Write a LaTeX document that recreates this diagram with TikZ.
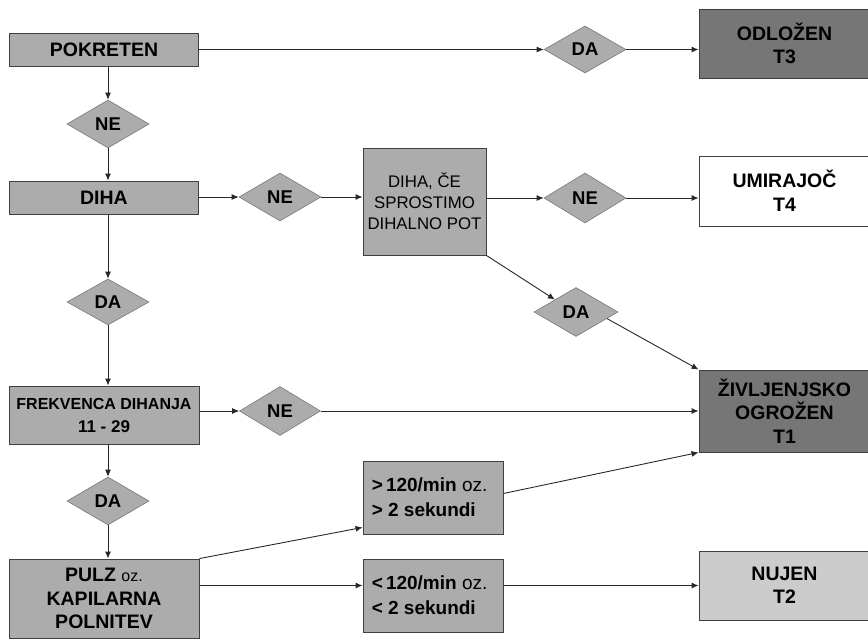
\documentclass[tikz,border=0pt]{standalone}
\usepackage{fontspec}
\setmainfont{Liberation Sans}
\usetikzlibrary{shapes.geometric,arrows.meta}

\definecolor{boxgray}{RGB}{172,172,172}
\definecolor{darkgray}{RGB}{118,118,118}
\definecolor{lightgray}{RGB}{204,204,204}
\definecolor{edgegray}{RGB}{64,64,64}
\definecolor{linegray}{RGB}{40,40,40}

\tikzset{
  box/.style={draw=edgegray, line width=0.9pt, fill=boxgray, inner sep=0pt,
    align=center, font=\bfseries\fontsize{19.5}{23.5}\selectfont},
  darkbox/.style={box, fill=darkgray},
  lightbox/.style={box, fill=lightgray},
  whitebox/.style={box, fill=white},
  answer/.style={diamond, draw=boxgray!70!black, line width=0.6pt, fill=boxgray,
    inner sep=0pt, font=\bfseries\fontsize{18.5}{22}\selectfont},
  rangebox/.style={box, minimum width=140pt, minimum height=73pt},
  rangetext/.style={anchor=west, align=left, inner sep=0pt,
    font=\bfseries\fontsize{19}{25}\selectfont},
  flow/.style={draw=linegray, line width=0.9pt, -{Latex[length=7pt,width=6pt]}},
}

\begin{document}
\begin{tikzpicture}[x=1pt,y=-1pt]
\useasboundingbox (0,0) rectangle (868,640);

% left column
\node[box, minimum width=189pt, minimum height=33pt] (pok) at (104,49.5) {POKRETEN};
\node[answer, minimum width=82pt, minimum height=48pt] (ne1) at (108,124) {NE};
\node[box, minimum width=189pt, minimum height=33pt] (diha) at (104,197.5) {DIHA};
\node[answer, minimum width=82pt, minimum height=46pt] (da2) at (108,302) {DA};
\node[box, minimum width=190pt, minimum height=58pt,
      font=\bfseries\fontsize{16}{23}\selectfont] (frek) at (104,415)
      {FREKVENCA DIHANJA\\{\fontsize{17}{23}\selectfont 11 - 29}};
\node[answer, minimum width=82pt, minimum height=48pt] (da4) at (108,501) {DA};
\node[box, minimum width=190pt, minimum height=79pt,
      font=\bfseries\fontsize{19.5}{23.5}\selectfont] (pulz) at (104,598.5)
      {PULZ {\mdseries\fontsize{16}{23.5}\selectfont oz.}\\KAPILARNA\\POLNITEV};

% middle column
\node[answer, minimum width=82pt, minimum height=48pt] (ne2) at (280,197) {NE};
\node[box, minimum width=123pt, minimum height=107pt,
      font=\mdseries\fontsize{16.8}{21}\selectfont] (resp) at (424.5,201.5)
      {DIHA, ČE\\SPROSTIMO\\DIHALNO POT};
\node[answer, minimum width=81pt, minimum height=49pt] (ne4) at (280,411) {NE};
\node[rangebox] (gt) at (433,497.5) {};
\node[rangetext] (gttext) at ([xshift=9pt]gt.west) {>\,120/min {\mdseries oz.}\\> 2 sekundi};
\node[rangebox] (lt) at (433,595.5) {};
\node[rangetext] (lttext) at ([xshift=9pt]lt.west) {<\,120/min {\mdseries oz.}\\< 2 sekundi};

% answers on the right
\node[answer, minimum width=82pt, minimum height=47pt] (da1) at (585,49.5) {DA};
\node[answer, minimum width=82pt, minimum height=50pt] (ne3) at (585,198) {NE};
\node[answer, minimum width=84pt, minimum height=49pt] (da3) at (576,312) {DA};

% triage categories
\node[darkbox, minimum width=171pt, minimum height=69pt] (t3) at (784.5,43.5) {ODLOŽEN\\T3};
\node[whitebox, minimum width=171pt, minimum height=70pt] (t4) at (784.5,191) {UMIRAJOČ\\T4};
\node[darkbox, minimum width=171pt, minimum height=82pt] (t1) at (784.5,411) {ŽIVLJENJSKO\\OGROŽEN\\T1};
\node[lightbox, minimum width=171pt, minimum height=69pt] (t2) at (784.5,585.5) {NUJEN\\T2};

% connectors
\draw[flow] (pok.east) -- (da1.west);
\draw[flow] (da1.east) -- (t3.west |- da1.east);
\draw[flow] (pok.south -| ne1.north) -- (ne1.north);
\draw[flow] (ne1.south) -- (diha.north -| ne1.south);
\draw[flow] (diha.east |- ne2.west) -- (ne2.west);
\draw[flow] (ne2.east) -- (resp.west |- ne2.east);
\draw[flow] (resp.east |- ne3.west) -- (ne3.west);
\draw[flow] (ne3.east) -- (t4.west |- ne3.east);
\draw[flow] (diha.south -| da2.north) -- (da2.north);
\draw[flow] (da2.south) -- (frek.north -| da2.south);
\draw[flow] (resp.south east) -- (da3.north west);
\draw[flow] (da3.-12) -- (t1.north west);
\draw[flow] (frek.east |- ne4.west) -- (ne4.west);
\draw[flow] (ne4.east) -- (t1.west |- ne4.east);
\draw[flow] (frek.south -| da4.north) -- (da4.north);
\draw[flow] (da4.south) -- (pulz.north -| da4.south);
\draw[flow] (pulz.north east) -- ([yshift=7pt]gt.south west);
\draw[flow] ([yshift=4pt]gt.east) -- (t1.south west);
\draw[flow] (pulz.east |- t2.west) -- (lt.west |- t2.west);
\draw[flow] (lt.east |- t2.west) -- (t2.west);
\end{tikzpicture}
\end{document}
